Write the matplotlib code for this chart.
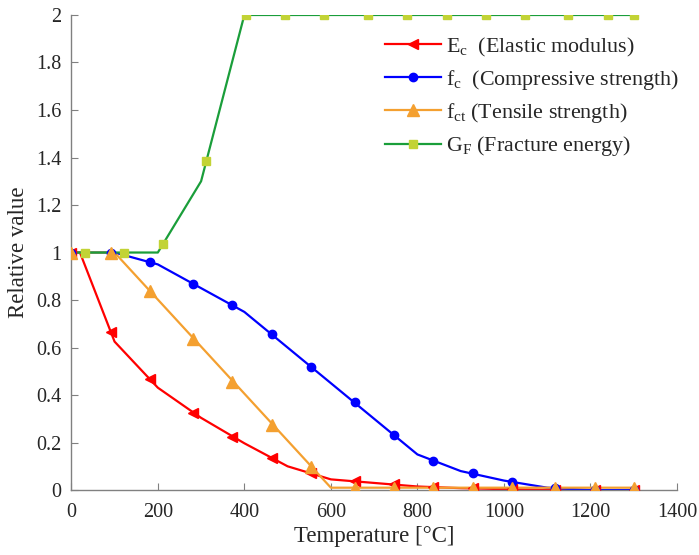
import numpy as np
import matplotlib
matplotlib.use("Agg")
import matplotlib.pyplot as plt
from matplotlib.lines import Line2D

# line breakpoints (temperature in C, relative value)
ec_t = [0, 20, 100, 200, 300, 400, 500, 600, 700, 800, 900, 1000, 1100, 1200, 1300]
ec_v = [1, 1, 0.625, 0.431, 0.304, 0.197, 0.100, 0.045, 0.030, 0.015, 0.008, 0.004, 0.001, 0, 0]
fc_t = [0, 100, 200, 300, 400, 500, 600, 700, 800, 900, 1000, 1100, 1200, 1300]
fc_v = [1, 1, 0.95, 0.85, 0.75, 0.60, 0.45, 0.30, 0.15, 0.08, 0.04, 0.01, 0, 0]
fct_t = [0, 100, 600, 1300]
fct_v = [1, 1, 0.01, 0.01]
gf_t = [0, 200, 300, 400, 1300]
gf_v = [1, 1, 1.3, 2, 2]

# marker positions
mark_t = [0, 91, 181, 282, 372, 464, 555, 655, 746, 837, 928, 1019, 1118, 1210, 1300]
ec_mark = [1, 0.667, 0.466, 0.326, 0.222, 0.133, 0.07, 0.039, 0.025, 0.013, 0.007, 0.004, 0.001, 0, 0]
fc_mark = [1, 1, 0.962, 0.869, 0.78, 0.655, 0.52, 0.37, 0.23, 0.124, 0.07, 0.034, 0.008, 0, 0]
fct_mark = [1, 1, 0.839, 0.638, 0.456, 0.273, 0.096, 0.01, 0.01, 0.01, 0.01, 0.01, 0.01, 0.01, 0.01]
gf_mark_t = [31, 122, 212, 312, 403, 494, 584, 686, 776, 868, 959, 1048, 1149, 1240, 1300]
gf_mark = [1, 1, 1.036, 1.385, 2, 2, 2, 2, 2, 2, 2, 2, 2, 2, 2]

labels = [r"E$_\mathrm{c}$  (Elastic modulus)",
          r"f$_\mathrm{c}$  (Compressive strength)",
          r"f$_\mathrm{ct}$ (Tensile strength)",
          r"G$_\mathrm{F}$ (Fracture energy)"]

xticks = [0, 200, 400, 600, 800, 1000, 1200, 1400]
yticks = [0, 0.2, 0.4, 0.6, 0.8, 1, 1.2, 1.4, 1.6, 1.8, 2]
ytick_labels = ["0", "0.2", "0.4", "0.6", "0.8", "1", "1.2", "1.4", "1.6", "1.8", "2"]

plt.rcParams["font.family"] = ["Liberation Serif", "DejaVu Serif"]
plt.rcParams["mathtext.fontset"] = "custom"
plt.rcParams["mathtext.rm"] = "Liberation Serif"
plt.rcParams["mathtext.it"] = "Liberation Serif:italic"

fig = plt.figure(figsize=(6.99, 5.55), dpi=100)
ax = fig.add_axes([0.102, 0.117, 0.8665, 0.856])

series = [
    (ec_t, ec_v, mark_t, ec_mark, "#ff0000", "#ff0000", "<", 7.5),
    (fc_t, fc_v, mark_t, fc_mark, "#0000ff", "#0000ff", "o", 6),
    (fct_t, fct_v, mark_t, fct_mark, "#f4a030", "#f4a030", "^", 8.5),
    (gf_t, gf_v, gf_mark_t, gf_mark, "#1a9e3a", "#c2d335", "s", 5.5),
]

handles = []
for (t, v, mt, mv, lc, mc, m, ms), lab in zip(series, labels):
    ax.plot(t, v, color=lc, lw=1.6, zorder=2)
    ax.plot(mt, mv, ls="none", marker=m, ms=ms, color=mc, mec=mc, zorder=3)
    handles.append(Line2D([], [], color=lc, lw=1.6, marker=m, ms=ms, mfc=mc, mec=mc))

ax.set_xlim(0, 1400)
ax.set_ylim(0, 2)
ax.set_xticks(xticks)
ax.set_yticks(yticks)
ax.set_yticklabels(ytick_labels)

for s in ["top", "right"]:
    ax.spines[s].set_visible(False)
for s in ["left", "bottom"]:
    ax.spines[s].set_color("#808080")
    ax.spines[s].set_linewidth(1.0)
ax.tick_params(direction="in", length=5, color="#808080", labelsize=14.5,
               labelcolor="#262626")
ax.tick_params(axis="x", pad=9)
ax.tick_params(axis="y", pad=7)

ax.set_xlabel("Temperature [°C]", fontsize=16.5, color="#262626", labelpad=3)
ax.set_ylabel("Relative value", fontsize=16.5, color="#262626", labelpad=5)

leg = ax.legend(handles, labels, loc="upper left", bbox_to_anchor=(0.503, 0.975),
                frameon=False, fontsize=15.8, handlelength=2.55, handletextpad=0.25,
                labelspacing=0.42, borderaxespad=0)
for txt in leg.get_texts():
    txt.set_color("#262626")

fig.savefig("out.png", dpi=100)
